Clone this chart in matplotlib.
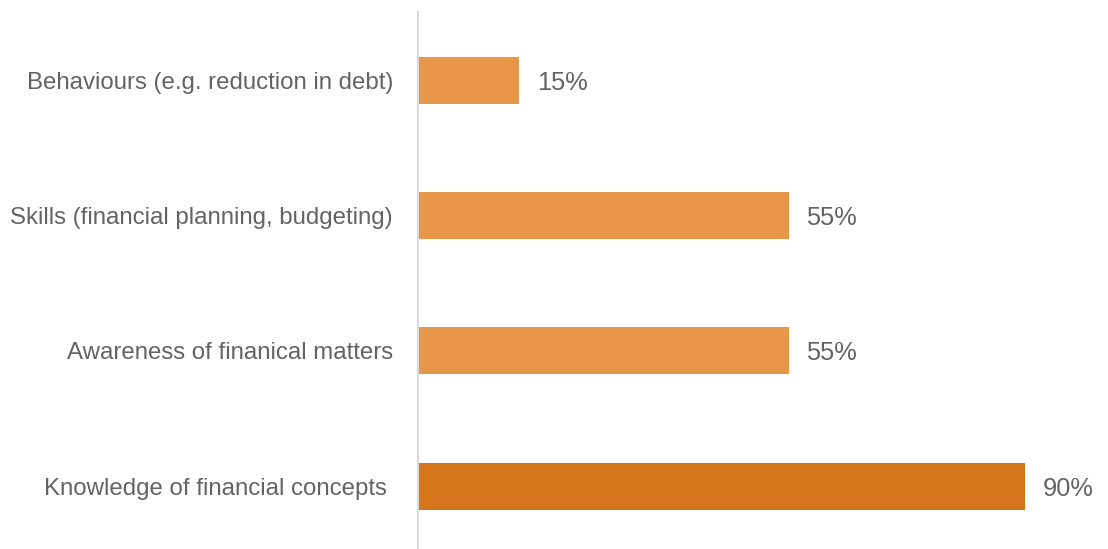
import matplotlib.pyplot as plt

categories = [
    "Knowledge of financial concepts ",
    "Awareness of finanical matters",
    "Skills (financial planning, budgeting)",
    "Behaviours (e.g. reduction in debt)",
]
values = [90, 55, 55, 15]
bar_colors = ["#D5761D", "#E8964A", "#E8964A", "#E8964A"]

plt.rcParams["font.family"] = ["Liberation Sans", "DejaVu Sans"]

W, H = 1108, 549
fig = plt.figure(figsize=(W / 100, H / 100), dpi=100)
# axes: left edge at the grey baseline, rows 135 px apart
ax = fig.add_axes([418 / W, -4.7 / H, 690 / W, 541.3 / H])

pos = range(len(categories))
ax.barh(pos, values, height=0.347, color=bar_colors)

for y, v in zip(pos, values):
    ax.text(v + 2.6, y, f"{v}%", va="center_baseline", ha="left",
            fontsize=18.3, color="#636363")

ax.set_xlim(0, 102.3)
ax.set_ylim(-0.5, 3.5)
ax.set_yticks(list(pos))
ax.set_yticklabels(categories, fontsize=17.3, color="#636363")
ax.tick_params(axis="y", length=0, pad=18)
ax.set_xticks([])

for side in ["top", "right", "bottom"]:
    ax.spines[side].set_visible(False)
ax.spines["left"].set_color("#D9D9D9")
ax.spines["left"].set_linewidth(1.5)

fig.savefig("out.png", dpi=100)
